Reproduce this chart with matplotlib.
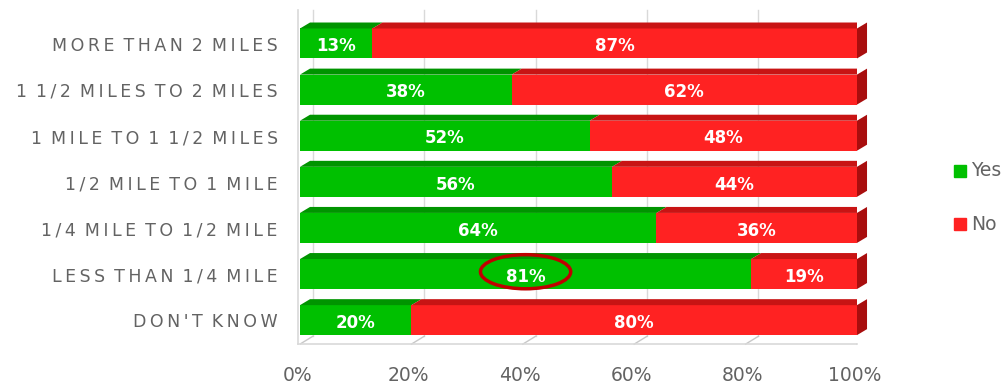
import matplotlib
matplotlib.use("Agg")
import matplotlib.pyplot as plt
from matplotlib.patches import Polygon, Rectangle, Ellipse

# data
categories = ["MORE THAN 2 MILES", "1 1/2 MILES TO 2 MILES", "1 MILE TO 1 1/2 MILES",
              "1/2 MILE TO 1 MILE", "1/4 MILE TO 1/2 MILE", "LESS THAN 1/4 MILE",
              "DON'T KNOW"]
yes = [13, 38, 52, 56, 64, 81, 20]
no = [87, 62, 48, 44, 36, 19, 80]
xticks = [0, 20, 40, 60, 80, 100]

green, green_top = "#00C000", "#009400"
red, red_top, red_side = "#FF2222", "#C81414", "#A80E0E"
gray = "#636363"

dx, dy = 1.8, 0.13     # bar depth
gdx, gdy = 2.3, 0.17   # wall / floor depth
bh = 0.65


def spaced(s):
    # fake letter spacing, words get a bit more room
    return " \u2009".join("\u2009".join(w) for w in s.split(" "))


fig = plt.figure(figsize=(10.07, 3.85), dpi=100)
ax = fig.add_axes([300 / 1007, 39.5 / 385, 557 / 1007, 336.6 / 385])
ax.set_xlim(0, 100)
ax.set_ylim(6.55, -0.75)
ax.axis("off")

# back wall grid + floor
floor_y = 6.52
for t in xticks:
    ax.plot([t + gdx, t + gdx], [floor_y - gdy, -0.72], color="#D9D9D9", lw=1, zorder=0)
    ax.plot([t, t + gdx], [floor_y, floor_y - gdy], color="#C8C8C8", lw=1, zorder=0)
    ax.text(t - 0.5, 7.19, f"{t}%", ha="center", va="center", fontsize=13.5,
            color=gray, clip_on=False)
ax.plot([-0.4, 100], [floor_y, floor_y], color="#D9D9D9", lw=1.2, zorder=0, clip_on=False)
ax.plot([-0.4, -0.4], [floor_y, -0.72], color="#D9D9D9", lw=1.2, zorder=0, clip_on=False)

for i, (y_, n_) in enumerate(zip(yes, no)):
    top = i - bh / 2
    segs = [(0, y_, green, green_top), (y_, n_, red, red_top)]
    for left, w, c, ct in segs:
        ax.add_patch(Rectangle((left, top), w, bh, color=c, lw=0, zorder=2))
        ax.add_patch(Polygon([(left, top), (left + w, top), (left + w + dx, top - dy),
                              (left + dx, top - dy)], closed=True, color=ct, lw=0,
                             zorder=2))
    end = y_ + n_
    ax.add_patch(Polygon([(end, top), (end + dx, top - dy), (end + dx, top + bh - dy),
                          (end, top + bh)], closed=True, color=red_side, lw=0,
                         zorder=2, clip_on=False))
    ax.text(y_ / 2, i + 0.06, f"{y_}%", ha="center", va="center", color="white",
            fontsize=12, fontweight="bold", zorder=3)
    ax.text(y_ + n_ / 2, i + 0.06, f"{n_}%", ha="center", va="center", color="white",
            fontsize=12, fontweight="bold", zorder=3)
    ax.text(-4, i + 0.05, spaced(categories[i]), ha="right", va="center", color=gray,
            fontsize=12.5, clip_on=False)

# highlight
ax.add_patch(Ellipse((yes[5] / 2, 5 - 0.05), 16.2, 0.74, fill=False,
                     edgecolor="#C00000", lw=2.5, zorder=4))

# legend
fig.patches.append(Rectangle((954 / 1007, 1 - 177 / 385), 12 / 1007, 12 / 385,
                             color=green, transform=fig.transFigure))
fig.patches.append(Rectangle((954 / 1007, 1 - 230 / 385), 12 / 1007, 12 / 385,
                             color=red, transform=fig.transFigure))
fig.text(971 / 1007, 1 - 171 / 385, "Yes", fontsize=13.5, color=gray, va="center")
fig.text(971 / 1007, 1 - 224 / 385, "No", fontsize=13.5, color=gray, va="center")

fig.savefig("out.png", dpi=100)
